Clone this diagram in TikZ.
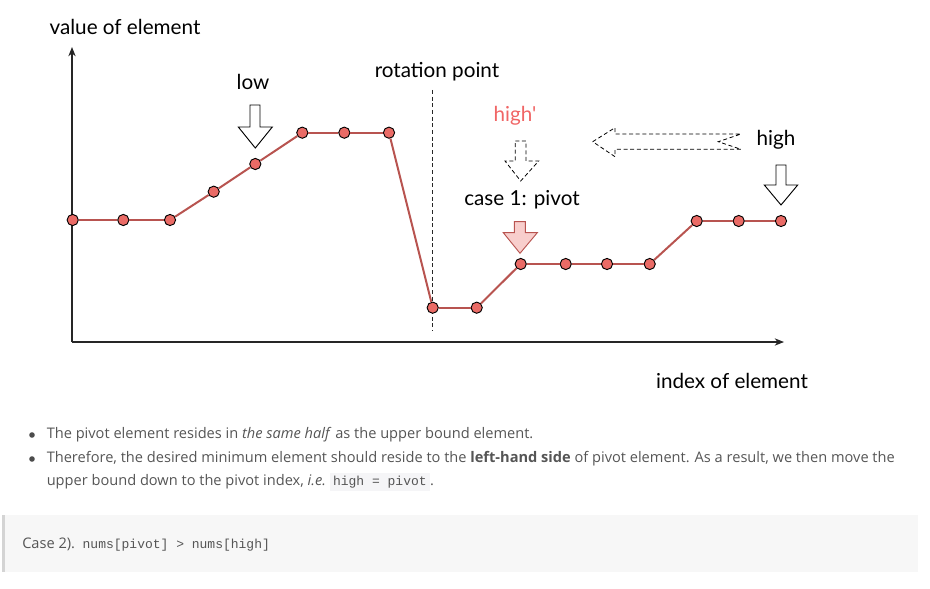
\documentclass[tikz,border=0pt]{standalone}
\usepackage{fontspec}
\setmainfont{Open Sans}
\setmonofont{Liberation Mono}
\newfontfamily\hand{Lato}
\usetikzlibrary{arrows.meta}
\definecolor{ptfill}{HTML}{EA6B66}
\definecolor{linec}{HTML}{B85450}
\definecolor{pinkfill}{HTML}{F8CECC}
\definecolor{hired}{HTML}{F06565}
\definecolor{bodyc}{HTML}{555555}
\definecolor{codebg}{HTML}{F5F5F7}
\definecolor{casebg}{HTML}{F7F7F7}
\definecolor{casebar}{HTML}{D4D4D4}
\tikzset{
  pt/.style={circle,minimum size=8.4pt,inner sep=0pt,fill=ptfill,draw=black,line width=0.7pt},
  curve/.style={draw=linec,line width=1.5pt},
  axis/.style={draw=black!85,line width=0.9pt,-{Stealth[length=7pt,width=5.5pt]}},
  lab/.style={font=\hand\fontsize{15.5}{18}\selectfont,inner sep=0pt},
  blk/.style={draw=black,fill=white,line width=0.7pt,line join=miter},
  blkdash/.style={draw=black,fill=white,line width=0.6pt,dashed,dash pattern=on 3pt off 2pt},
  body/.style={font=\fontsize{10.95}{13}\selectfont,text=bodyc,inner sep=0pt,anchor=west},
  bul/.style={circle,fill=bodyc!90!black,minimum size=4.2pt,inner sep=0pt},
}
\begin{document}
\begin{tikzpicture}[x=0.75pt,y=-0.75pt]
\useasboundingbox (0,0) rectangle (930,588);
% axes
\coordinate (O) at (72,342);
\coordinate (Ytop) at (72,47);
\coordinate (Xend) at (784,342);
\draw[axis] (O) -- (Ytop);
\draw[axis] (O) -- (Xend);
% rotation line
\coordinate (r1) at (432.7,90);
\coordinate (r2) at (432.7,331);
\draw[black!85,line width=0.6pt,dash pattern=on 3pt off 2pt] (r1) -- (r2);
% points
\node[pt] (p1) at (72.7,220) {};
\node[pt] (p2) at (123.3,220) {};
\node[pt] (p3) at (170,220) {};
\node[pt] (p4) at (213.7,191.7) {};
\node[pt] (p5) at (255.3,164) {};
\node[pt] (p6) at (302.3,132.7) {};
\node[pt] (p7) at (344.3,132.7) {};
\node[pt] (p8) at (389,132.7) {};
\node[pt] (p9) at (432.7,307.7) {};
\node[pt] (p10) at (476.7,307.7) {};
\node[pt] (p11) at (520.7,264) {};
\node[pt] (p12) at (565.7,264) {};
\node[pt] (p13) at (607,264) {};
\node[pt] (p14) at (649.7,264) {};
\node[pt] (p15) at (696.7,221) {};
\node[pt] (p16) at (738.7,221) {};
\node[pt] (p17) at (781,221) {};
\foreach \a/\b in {p1/p2,p2/p3,p3/p4,p4/p5,p5/p6,p6/p7,p7/p8,p8/p9,p9/p10,p10/p11,p11/p12,p12/p13,p13/p14,p14/p15,p15/p16,p16/p17}
  \draw[curve] (\a) -- (\b);
% labels
\node[lab] (yl) at (125,27) {value of element};
\node[lab] (low) at (253,82) {low};
\node[lab] (rot) at (437,72) {rotation point};
\node[lab,text=hired] (hp) at (515,116) {high'};
\node[lab] (cp) at (522,200) {case 1: pivot};
\node[lab] (hi) at (776,140) {high};
\node[lab] (xl) at (732,381) {index of element};
% block arrows
\draw[blk] (250,105) -- (260,105) -- (260,127) -- (272.3,127) -- (255.3,148) -- (238.3,127) -- (250,127) -- cycle;
\draw[blk] (776,165) -- (786,165) -- (786,185) -- (797.7,185) -- (781,205) -- (764.3,185) -- (776,185) -- cycle;
\draw[draw=linec,fill=pinkfill,line width=0.7pt,line join=miter] (514.3,221.7) -- (525.3,221.7) -- (525.3,232.7) -- (537.3,232.7) -- (520,253.3) -- (503.3,232.7) -- (514.3,232.7) -- cycle;
\draw[blkdash] (515.3,141) -- (526,141) -- (526,161) -- (538.7,161) -- (520.7,181) -- (505,161) -- (515.3,161) -- cycle;
\draw[blkdash] (592.7,141.7) -- (615,127.7) -- (615,134) -- (741,134) -- (718.3,141.7) -- (741,149.3) -- (615,149.3) -- (615,156.7) -- cycle;
% bottom text
\node[bul] (d1) at (32,435) {};
\node[bul] (d2) at (32,459) {};
\node[body] (t1) at (46.5,435) {The pivot element resides in \textit{the same half} as the upper bound element.};
\node[body] (t2) at (46.5,459) {Therefore, the desired minimum element should reside to the \textbf{left-hand side} of pivot element. As a result, we then move the};
\node[body] (t3) at (46.5,482) {upper bound down to the pivot index, \textit{i.e.}\ {\setlength{\fboxsep}{2.5pt}\colorbox{codebg}{\ttfamily\fontsize{9.75}{11}\selectfont high = pivot}}.};
% case box
\fill[casebg] (2,515) rectangle (918,572);
\fill[casebar] (2,515) rectangle (5,572);
\node[body] (c2) at (22,545) {Case 2).\ \ {\ttfamily\fontsize{9.75}{11}\selectfont nums[pivot] > nums[high]}};
\end{tikzpicture}
\end{document}
